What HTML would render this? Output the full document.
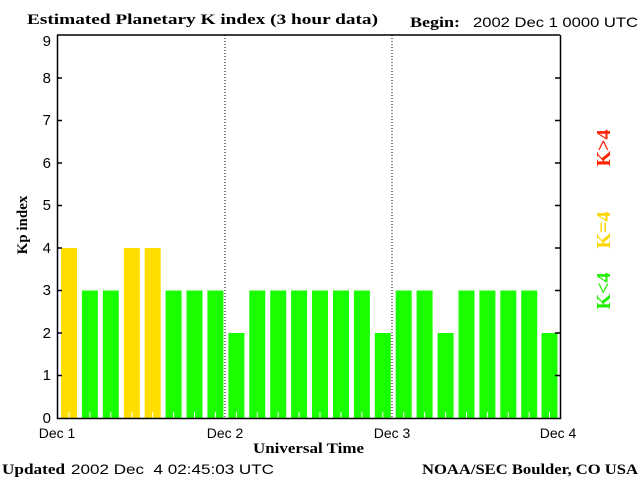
<!DOCTYPE html><html><head><style>body{margin:0;background:#fff}</style></head><body>
<svg width="640" height="480" xmlns="http://www.w3.org/2000/svg" style="display:block">
<rect width="640" height="480" fill="#fff"/>
<g font-family="Liberation Serif, serif" font-weight="bold" font-size="15" fill="#000">
<text x="27" y="24" textLength="351" lengthAdjust="spacingAndGlyphs">Estimated Planetary K index (3 hour data)</text>
<text x="410" y="27" textLength="50" lengthAdjust="spacingAndGlyphs">Begin:</text>
<text x="253" y="453" textLength="111" lengthAdjust="spacingAndGlyphs">Universal Time</text>
<text x="2" y="474" textLength="63" lengthAdjust="spacingAndGlyphs">Updated</text>
<text x="422" y="474" textLength="216" lengthAdjust="spacingAndGlyphs">NOAA/SEC Boulder, CO USA</text>
<text transform="translate(27,225) rotate(-90)" text-anchor="middle">Kp index</text>
</g>
<g font-family="Liberation Sans, sans-serif" font-size="14" fill="#000">
<text x="473" y="27" textLength="165" lengthAdjust="spacingAndGlyphs">2002 Dec 1 0000 UTC</text>
<text x="71" y="474" textLength="203" lengthAdjust="spacingAndGlyphs" xml:space="preserve">2002 Dec  4 02:45:03 UTC</text>
<text x="57" y="438" text-anchor="middle">Dec 1</text>
<text x="225" y="438" text-anchor="middle">Dec 2</text>
<text x="392" y="438" text-anchor="middle">Dec 3</text>
<text x="558" y="438" text-anchor="middle">Dec 4</text>
<g text-anchor="end" font-size="15">
<text x="51" y="423">0</text><text x="51" y="380">1</text><text x="51" y="338">2</text><text x="51" y="295">3</text><text x="51" y="253">4</text><text x="51" y="210">5</text><text x="51" y="168">6</text><text x="51" y="125">7</text><text x="51" y="83">8</text><text x="51" y="46">9</text>
</g></g>
<g>
<rect x="61" y="248" width="16" height="170" fill="#ffdd00"/>
<rect x="81.9" y="290.5" width="16" height="127.5" fill="#1aff00"/>
<rect x="102.8" y="290.5" width="16" height="127.5" fill="#1aff00"/>
<rect x="123.8" y="248" width="16" height="170" fill="#ffdd00"/>
<rect x="144.7" y="248" width="16" height="170" fill="#ffdd00"/>
<rect x="165.6" y="290.5" width="16" height="127.5" fill="#1aff00"/>
<rect x="186.5" y="290.5" width="16" height="127.5" fill="#1aff00"/>
<rect x="207.4" y="290.5" width="16" height="127.5" fill="#1aff00"/>
<rect x="228.4" y="333" width="16" height="85" fill="#1aff00"/>
<rect x="249.3" y="290.5" width="16" height="127.5" fill="#1aff00"/>
<rect x="270.2" y="290.5" width="16" height="127.5" fill="#1aff00"/>
<rect x="291.1" y="290.5" width="16" height="127.5" fill="#1aff00"/>
<rect x="312" y="290.5" width="16" height="127.5" fill="#1aff00"/>
<rect x="333" y="290.5" width="16" height="127.5" fill="#1aff00"/>
<rect x="353.9" y="290.5" width="16" height="127.5" fill="#1aff00"/>
<rect x="374.8" y="333" width="16" height="85" fill="#1aff00"/>
<rect x="395.7" y="290.5" width="16" height="127.5" fill="#1aff00"/>
<rect x="416.6" y="290.5" width="16" height="127.5" fill="#1aff00"/>
<rect x="437.6" y="333" width="16" height="85" fill="#1aff00"/>
<rect x="458.5" y="290.5" width="16" height="127.5" fill="#1aff00"/>
<rect x="479.4" y="290.5" width="16" height="127.5" fill="#1aff00"/>
<rect x="500.3" y="290.5" width="16" height="127.5" fill="#1aff00"/>
<rect x="521.2" y="290.5" width="16" height="127.5" fill="#1aff00"/>
<rect x="541.5" y="333" width="16" height="85" fill="#1aff00"/>
<path d="M69 412v6M89.9 412v6M110.8 412v6M131.8 412v6M152.7 412v6M173.6 412v6M194.5 412v6M215.4 412v6M236.4 412v6M257.3 412v6M278.2 412v6M299.1 412v6M320 412v6M341 412v6M361.9 412v6M382.8 412v6M403.7 412v6M424.6 412v6M445.6 412v6M466.5 412v6M487.4 412v6M508.3 412v6M529.2 412v6M549.5 412v6" stroke="#fff"/>
</g>
<line x1="225" y1="35" x2="225" y2="418" stroke="#000" stroke-dasharray="1,2"/>
<line x1="392" y1="35" x2="392" y2="418" stroke="#000" stroke-dasharray="1,2"/>
<path d="M57.5 35V418.5H560.5V35M57 35H560" fill="none" stroke="#000" stroke-width="1.5"/>
<g stroke="#000" stroke-width="1.5">
<path d="M57 375.5h5M57 333h5M57 290.5h5M57 248h5M57 205.5h5M57 163h5M57 120.5h5M57 78h5M560 375.5h-5M560 333h-5M560 290.5h-5M560 248h-5M560 205.5h-5M560 163h-5M560 120.5h-5M560 78h-5"/>
</g>
<g font-family="Liberation Serif, serif" font-weight="bold" font-size="20">
<text transform="translate(610,148) rotate(-90)" text-anchor="middle" fill="#ff2200">K&gt;4</text>
<text transform="translate(610,230) rotate(-90)" text-anchor="middle" fill="#ffd700">K=4</text>
<text transform="translate(610,291) rotate(-90)" text-anchor="middle" fill="#22ee00">K&lt;4</text>
</g>
</svg>
</body></html>
